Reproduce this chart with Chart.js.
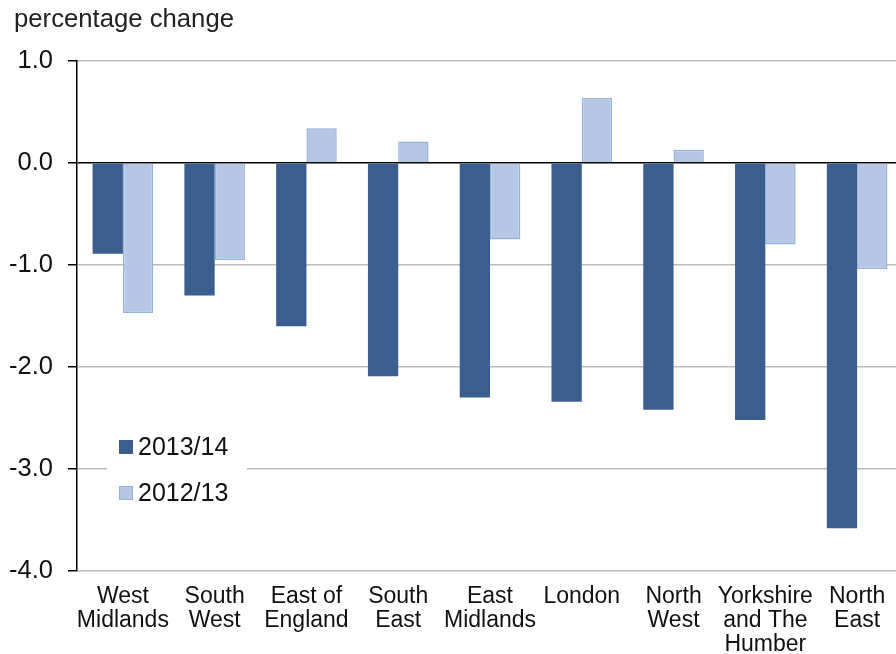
<!DOCTYPE html>
<html>
<head>
<meta charset="utf-8">
<script src="https://cdn.jsdelivr.net/npm/chart.js@4"></script>
<style>
  html, body { margin: 0; padding: 0; background: #fff; overflow: hidden; }
  #wrap { width: 903px; height: 654px; }
</style>
</head>
<body>
<div id="wrap"><canvas id="regionChart"></canvas></div>
<script>
// Categories (multi-line tick labels)
const regions = [
    ['West', 'Midlands'],
    ['South', 'West'],
    ['East of', 'England'],
    ['South', 'East'],
    ['East', 'Midlands'],
    ['London'],
    ['North', 'West'],
    ['Yorkshire', 'and The', 'Humber'],
    ['North', 'East']
];

// Series values (percentage change)
const change1314 = [-0.89, -1.30, -1.60, -2.09, -2.30, -2.34, -2.42, -2.52, -3.58];
const change1213 = [-1.47, -0.95, 0.34, 0.21, -0.75, 0.64, 0.13, -0.80, -1.04];

const seriesLabels = ['2013/14', '2012/13'];
const yTicks = [1, 0, -1, -2, -3, -4];

const FONT = 'Arial, "Liberation Sans", sans-serif';

// Title in the top-left corner
const titlePlugin = {
    id: 'cornerTitle',
    afterDraw(chart) {
        const ctx = chart.ctx;
        ctx.save();
        ctx.font = '25.7px ' + FONT;
        ctx.fillStyle = '#222';
        ctx.textBaseline = 'middle';
        ctx.textAlign = 'left';
        ctx.fillText('percentage change', 14, 20);
        ctx.restore();
    }
};

// Legend drawn inside the plot area, lower left
const insideLegend = {
    id: 'insideLegend',
    afterDatasetsDraw(chart) {
        const ctx = chart.ctx;
        const area = chart.chartArea;
        const x0 = area.left + 30;
        const y0 = 425;
        ctx.save();
        ctx.fillStyle = '#fff';
        ctx.fillRect(x0, y0, 140, 92);
        ctx.font = '25px ' + FONT;
        ctx.textBaseline = 'middle';
        ctx.textAlign = 'left';
        chart.data.datasets.forEach((ds, i) => {
            const cy = 447 + i * 46;
            ctx.fillStyle = ds.backgroundColor;
            ctx.fillRect(x0 + 12, cy - 7, 14, 14);
            ctx.strokeStyle = ds.borderColor;
            ctx.lineWidth = 1;
            ctx.strokeRect(x0 + 12.5, cy - 6.5, 13, 13);
            ctx.fillStyle = '#111';
            ctx.fillText(ds.label, x0 + 31, cy + 1);
        });
        ctx.restore();
    }
};

const ctx = document.getElementById('regionChart').getContext('2d');
new Chart(ctx, {
    type: 'bar',
    data: {
        labels: regions,
        datasets: [{
            label: seriesLabels[0],
            data: change1314,
            backgroundColor: '#3b5e8f',
            borderColor: '#3b5e8f',
            borderWidth: 0,
            categoryPercentage: 0.66,
            barPercentage: 1.0
        }, {
            label: seriesLabels[1],
            data: change1213,
            backgroundColor: '#b4c8e6',
            borderColor: '#95b3d7',
            borderWidth: 1.5,
            categoryPercentage: 0.66,
            barPercentage: 1.0
        }]
    },
    options: {
        responsive: true,
        maintainAspectRatio: false,
        animation: false,
        layout: { padding: { top: 61, left: 0, right: 0, bottom: 0 } },
        plugins: {
            legend: { display: false },
            tooltip: { enabled: false }
        },
        scales: {
            x: {
                grid: { display: false },
                border: { display: false },
                ticks: {
                    color: '#111',
                    font: { family: FONT, size: 23, lineHeight: 1.045 },
                    maxRotation: 0,
                    autoSkip: false,
                    padding: 6
                },
                afterFit(scale) { scale.height = 83; }
            },
            y: {
                min: -4,
                max: 1,
                afterBuildTicks(scale) {
                    scale.ticks = yTicks.map(v => ({ value: v }));
                },
                grid: {
                    color: c => (c.tick && c.tick.value === 0) ? '#000' : '#bcbcbc',
                    lineWidth: 1.5,
                    tickColor: '#000',
                    tickLength: 9
                },
                border: { display: true, color: '#000', width: 1.5 },
                ticks: {
                    color: '#111',
                    font: { family: FONT, size: 25.5 },
                    padding: 15,
                    callback: v => Number(v).toFixed(1)
                },
                afterFit(scale) { scale.width = 77; }
            }
        }
    },
    plugins: [titlePlugin, insideLegend]
});
</script>
</body>
</html>
